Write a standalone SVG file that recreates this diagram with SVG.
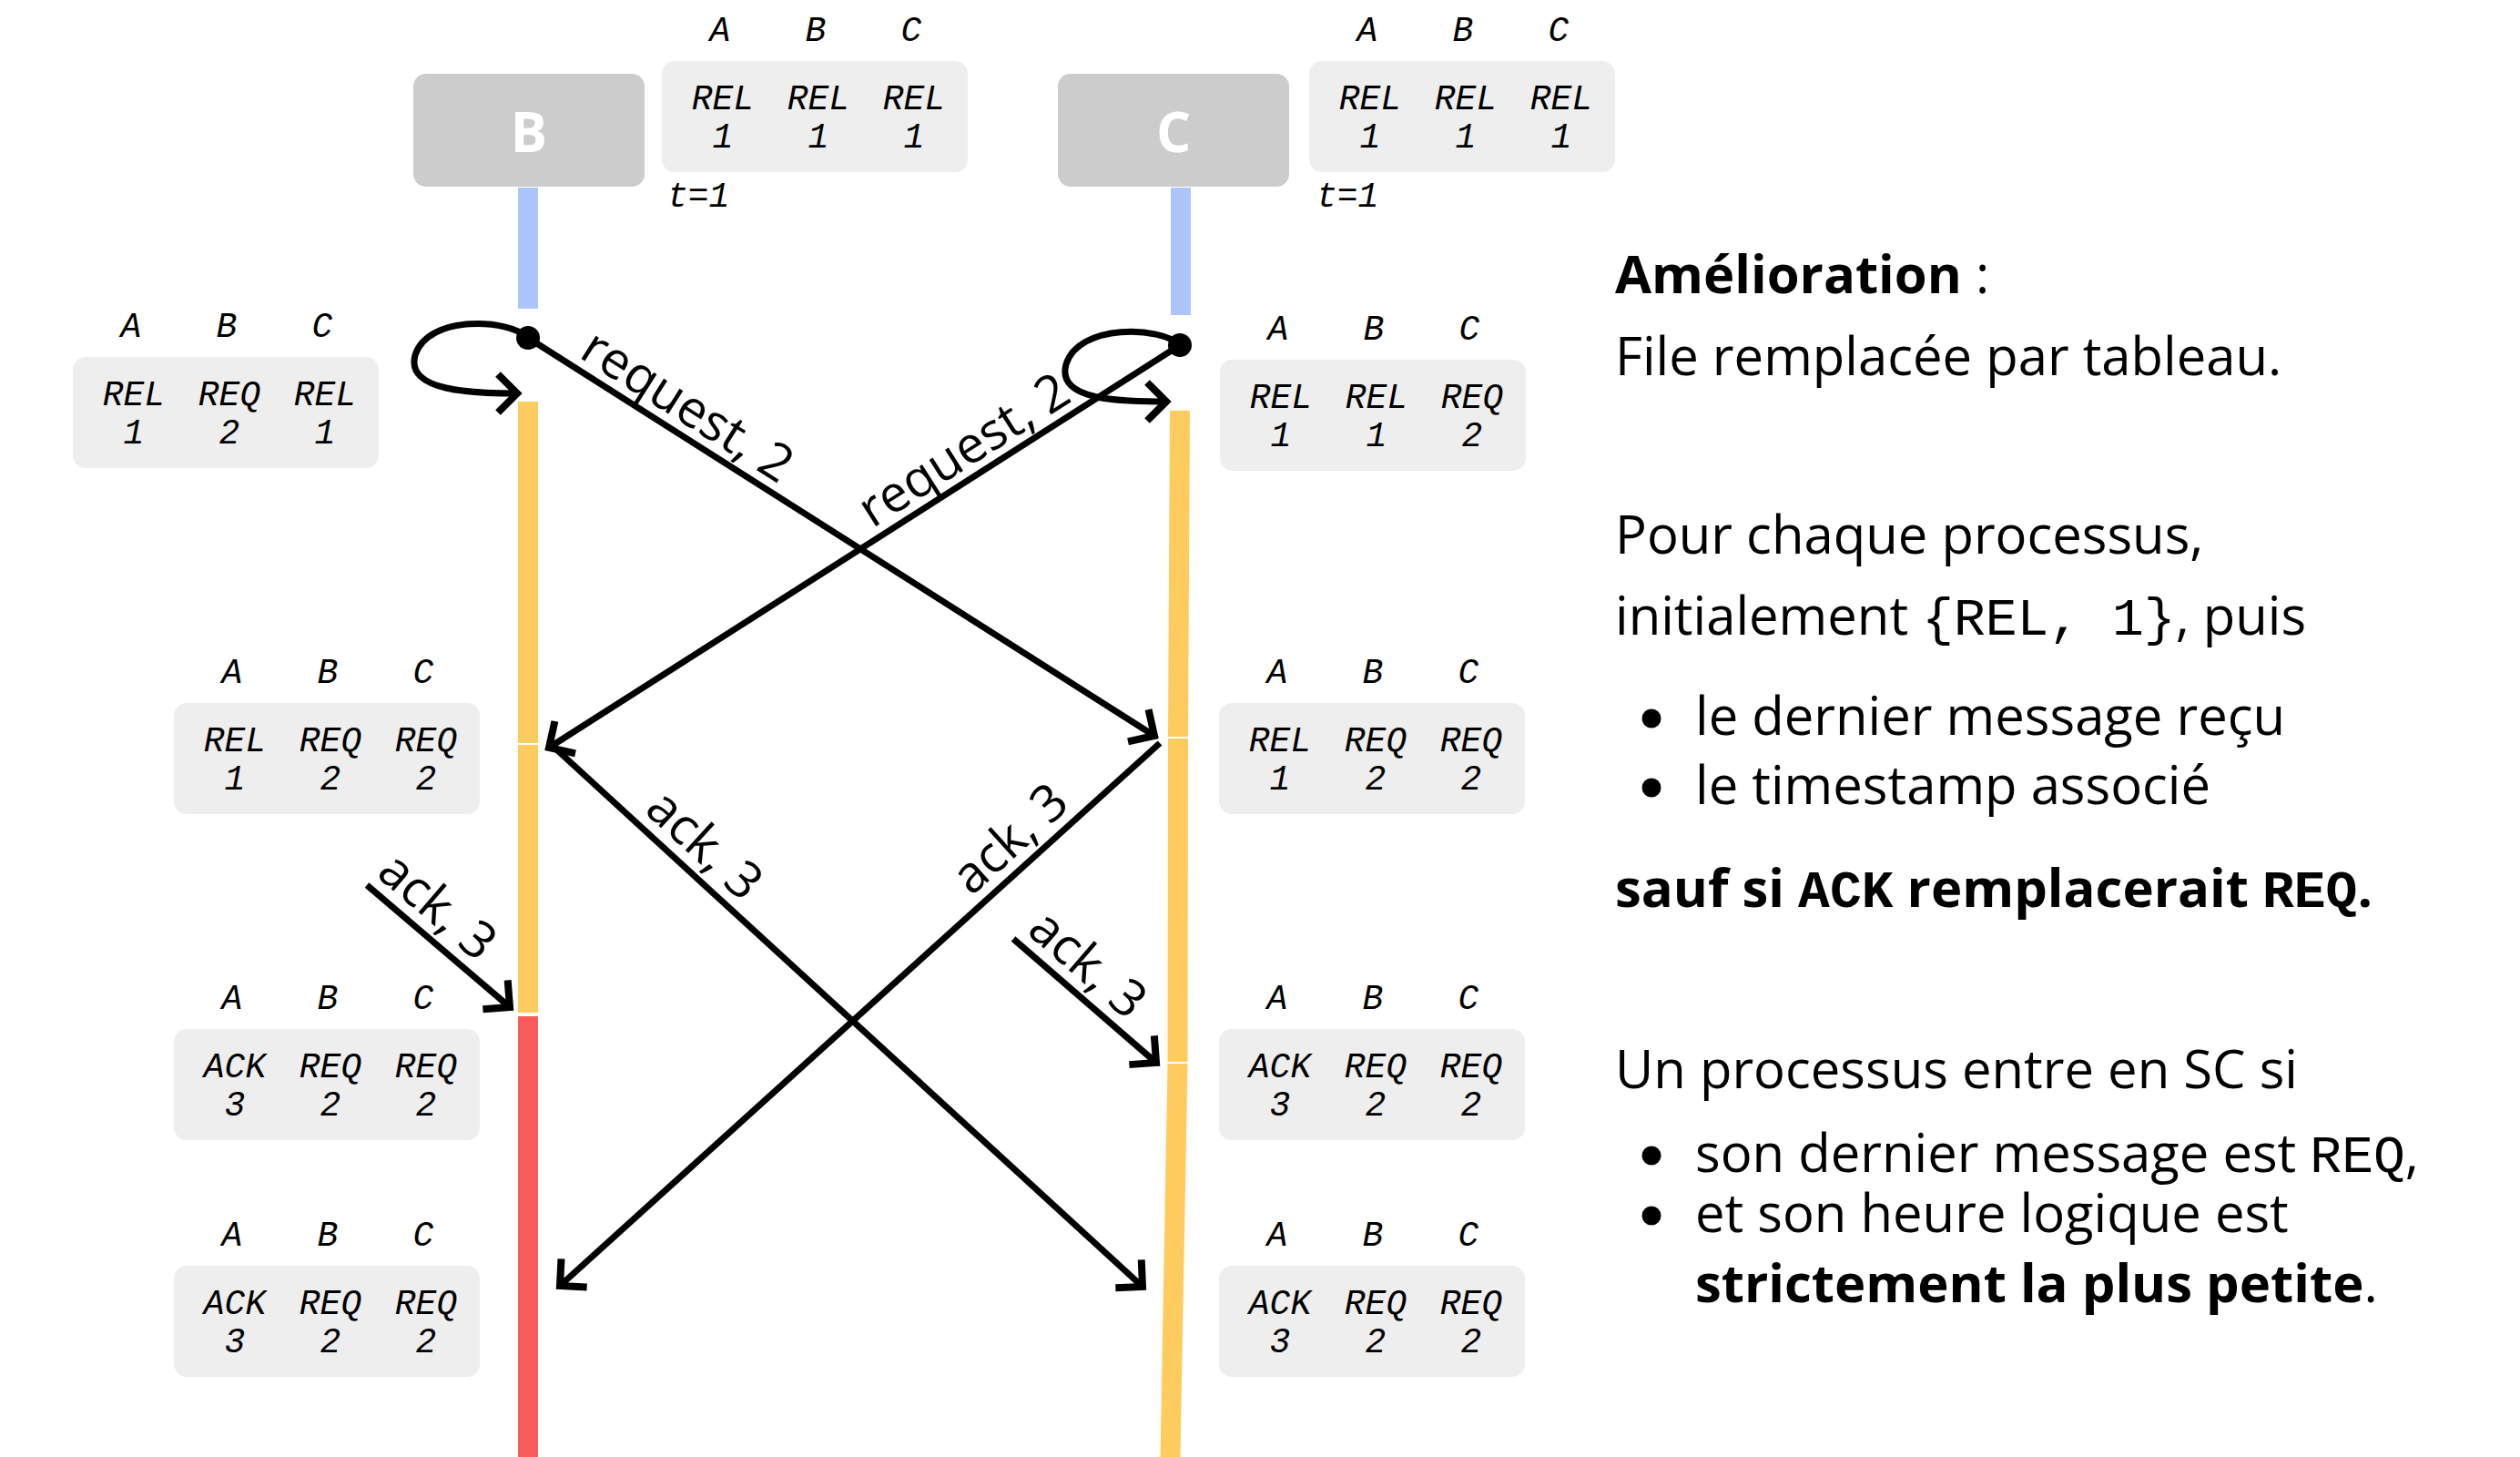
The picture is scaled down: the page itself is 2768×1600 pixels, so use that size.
<svg xmlns="http://www.w3.org/2000/svg" width="2768" height="1600" viewBox="0 0 2768 1600">
<style>
.proc{fill:#cccccc}
.proct{font-family:"Open Sans","Noto Sans",sans-serif;font-weight:bold;font-size:60px;fill:#fff;text-anchor:middle}
.tbl{fill:#eeeeee}
.m{font-family:"Liberation Mono","Courier New",monospace;font-style:italic;font-size:38px;fill:#000;text-anchor:middle}
.t1{font-family:"Liberation Mono","Courier New",monospace;font-style:italic;font-size:38px;fill:#000}
.lbl{font-family:"Open Sans","Noto Sans",sans-serif;font-size:56px;fill:#000;text-anchor:middle}
.body{font-family:"Open Sans","Noto Sans",sans-serif;font-size:58px;fill:#000}
.code{font-family:"Liberation Mono","Courier New",monospace}
.b{font-weight:bold}
.bullet{fill:#000}
.ln{stroke:#000;stroke-width:7;fill:none}
.blue{fill:#aec5fc}
.yel{fill:#fecc5e}
.red{fill:#f95c5c}
</style>
<defs>
<marker id="ah" viewBox="-30 -30 40 60" markerWidth="40" markerHeight="60" refX="0" refY="0" orient="auto" markerUnits="userSpaceOnUse">
<path d="M-21,-21 L0,0 L-21,21" fill="none" stroke="#000" stroke-width="8"/>
</marker>
</defs>

<g id="lifeline-B">
<rect class="blue" x="569" y="206" width="22" height="133"/>
<rect class="yel" x="569" y="441" width="22" height="375"/>
<rect class="yel" x="569" y="818" width="22" height="294"/>
<rect class="red" x="569" y="1116" width="22" height="484"/>
<circle cx="580" cy="371" r="13" fill="#000"/>
</g>
<g id="lifeline-C">
<rect class="blue" x="1286" y="206" width="22" height="140"/>
<polygon class="yel" points="1285,451 1307,451 1305,809 1283,809"/>
<polygon class="yel" points="1283,811 1305,811 1304.5,1166 1282.5,1166"/>
<polygon class="yel" points="1282.5,1168 1304.5,1168 1296.5,1600 1274.5,1600"/>
<circle cx="1296" cy="379" r="13" fill="#000"/>
</g>

<g id="node-B">
<rect class="proc" x="454" y="81" width="254" height="124" rx="14"/>
<text class="proct" x="581" y="167">B</text>
</g>
<g id="node-C">
<rect class="proc" x="1162" y="81" width="254" height="124" rx="14"/>
<text class="proct" x="1289" y="167">C</text>
</g>

<g id="table-B0">
<rect class="tbl" x="727" y="67" width="336" height="122" rx="14"/>
<text class="m" x="791" y="45">A</text><text class="m" x="896" y="45">B</text><text class="m" x="1001" y="45">C</text>
<text class="m" x="794" y="120">REL</text><text class="m" x="899" y="120">REL</text><text class="m" x="1004" y="120">REL</text>
<text class="m" x="794" y="162">1</text><text class="m" x="899" y="162">1</text><text class="m" x="1004" y="162">1</text>
<text class="t1" x="733" y="227">t=1</text>
</g>
<g id="table-C0">
<rect class="tbl" x="1438" y="67" width="336" height="122" rx="14"/>
<text class="m" x="1502" y="45">A</text><text class="m" x="1607" y="45">B</text><text class="m" x="1712" y="45">C</text>
<text class="m" x="1505" y="120">REL</text><text class="m" x="1610" y="120">REL</text><text class="m" x="1715" y="120">REL</text>
<text class="m" x="1505" y="162">1</text><text class="m" x="1610" y="162">1</text><text class="m" x="1715" y="162">1</text>
<text class="t1" x="1446" y="227">t=1</text>
</g>
<g id="table-B1">
<rect class="tbl" x="80" y="392" width="336" height="122" rx="14"/>
<text class="m" x="144" y="370">A</text><text class="m" x="249" y="370">B</text><text class="m" x="354" y="370">C</text>
<text class="m" x="147" y="445">REL</text><text class="m" x="252" y="445">REQ</text><text class="m" x="357" y="445">REL</text>
<text class="m" x="147" y="487">1</text><text class="m" x="252" y="487">2</text><text class="m" x="357" y="487">1</text>
</g>
<g id="table-C1">
<rect class="tbl" x="1340" y="395" width="336" height="122" rx="14"/>
<text class="m" x="1404" y="373">A</text><text class="m" x="1509" y="373">B</text><text class="m" x="1614" y="373">C</text>
<text class="m" x="1407" y="448">REL</text><text class="m" x="1512" y="448">REL</text><text class="m" x="1617" y="448">REQ</text>
<text class="m" x="1407" y="490">1</text><text class="m" x="1512" y="490">1</text><text class="m" x="1617" y="490">2</text>
</g>
<g id="table-B2">
<rect class="tbl" x="191" y="772" width="336" height="122" rx="14"/>
<text class="m" x="255" y="750">A</text><text class="m" x="360" y="750">B</text><text class="m" x="465" y="750">C</text>
<text class="m" x="258" y="825">REL</text><text class="m" x="363" y="825">REQ</text><text class="m" x="468" y="825">REQ</text>
<text class="m" x="258" y="867">1</text><text class="m" x="363" y="867">2</text><text class="m" x="468" y="867">2</text>
</g>
<g id="table-C2">
<rect class="tbl" x="1339" y="772" width="336" height="122" rx="14"/>
<text class="m" x="1403" y="750">A</text><text class="m" x="1508" y="750">B</text><text class="m" x="1613" y="750">C</text>
<text class="m" x="1406" y="825">REL</text><text class="m" x="1511" y="825">REQ</text><text class="m" x="1616" y="825">REQ</text>
<text class="m" x="1406" y="867">1</text><text class="m" x="1511" y="867">2</text><text class="m" x="1616" y="867">2</text>
</g>
<g id="table-B3">
<rect class="tbl" x="191" y="1130" width="336" height="122" rx="14"/>
<text class="m" x="255" y="1108">A</text><text class="m" x="360" y="1108">B</text><text class="m" x="465" y="1108">C</text>
<text class="m" x="258" y="1183">ACK</text><text class="m" x="363" y="1183">REQ</text><text class="m" x="468" y="1183">REQ</text>
<text class="m" x="258" y="1225">3</text><text class="m" x="363" y="1225">2</text><text class="m" x="468" y="1225">2</text>
</g>
<g id="table-C3">
<rect class="tbl" x="1339" y="1130" width="336" height="122" rx="14"/>
<text class="m" x="1403" y="1108">A</text><text class="m" x="1508" y="1108">B</text><text class="m" x="1613" y="1108">C</text>
<text class="m" x="1406" y="1183">ACK</text><text class="m" x="1511" y="1183">REQ</text><text class="m" x="1616" y="1183">REQ</text>
<text class="m" x="1406" y="1225">3</text><text class="m" x="1511" y="1225">2</text><text class="m" x="1616" y="1225">2</text>
</g>
<g id="table-B4">
<rect class="tbl" x="191" y="1390" width="336" height="122" rx="14"/>
<text class="m" x="255" y="1368">A</text><text class="m" x="360" y="1368">B</text><text class="m" x="465" y="1368">C</text>
<text class="m" x="258" y="1443">ACK</text><text class="m" x="363" y="1443">REQ</text><text class="m" x="468" y="1443">REQ</text>
<text class="m" x="258" y="1485">3</text><text class="m" x="363" y="1485">2</text><text class="m" x="468" y="1485">2</text>
</g>
<g id="table-C4">
<rect class="tbl" x="1339" y="1390" width="336" height="122" rx="14"/>
<text class="m" x="1403" y="1368">A</text><text class="m" x="1508" y="1368">B</text><text class="m" x="1613" y="1368">C</text>
<text class="m" x="1406" y="1443">ACK</text><text class="m" x="1511" y="1443">REQ</text><text class="m" x="1616" y="1443">REQ</text>
<text class="m" x="1406" y="1485">3</text><text class="m" x="1511" y="1485">2</text><text class="m" x="1616" y="1485">2</text>
</g>

<g id="connectors">
<path class="ln" d="M580,371 C560,350 470,345 456,390 C445,430 520,432 568,432" marker-end="url(#ah)"/>
<path class="ln" d="M1296,379 C1275,358 1185,355 1171,400 C1160,440 1230,441 1281,441" marker-end="url(#ah)"/>
<line class="ln" x1="580" y1="371" x2="1268" y2="808" marker-end="url(#ah)"/>
<line class="ln" x1="1296" y1="379" x2="603" y2="821" marker-end="url(#ah)"/>
<line class="ln" x1="608" y1="820" x2="1255" y2="1413" marker-end="url(#ah)"/>
<line class="ln" x1="1274" y1="816" x2="615" y2="1412" marker-end="url(#ah)"/>
<line class="ln" x1="403" y1="972" x2="560" y2="1106" marker-end="url(#ah)"/>
<line class="ln" x1="1113" y1="1031" x2="1270" y2="1167" marker-end="url(#ah)"/>
<text class="lbl" transform="translate(580,371) rotate(32.4)" x="188" y="-12">request, 2</text>
<text class="lbl" transform="translate(603,821) rotate(-32.5)" x="560" y="-12">request, 2</text>
<text class="lbl" transform="translate(608,820) rotate(42.5)" x="195" y="-14">ack, 3</text>
<text class="lbl" transform="translate(615,1412) rotate(-42.1)" x="696" y="-14">ack, 3</text>
<text class="lbl" transform="translate(403,972) rotate(40.5)" x="74" y="-14">ack, 3</text>
<text class="lbl" transform="translate(1113,1031) rotate(40.9)" x="80" y="-14">ack, 3</text>
</g>

<g id="notes">
<text class="body" x="1774" y="322"><tspan class="b">Amélioration</tspan> :</text>
<text class="body" x="1774" y="412">File remplacée par tableau.</text>
<text class="body" x="1774" y="608">Pour chaque processus,</text>
<text class="body" x="1774" y="697">initialement <tspan class="code">{REL, 1}</tspan>, puis</text>
<circle class="bullet" cx="1814" cy="789" r="10.5"/><text class="body" x="1862" y="807">le dernier message reçu</text>
<circle class="bullet" cx="1814" cy="865" r="10.5"/><text class="body" x="1862" y="883">le timestamp associé</text>
<text class="body b" x="1774" y="996">sauf si <tspan class="code">ACK</tspan> remplacerait <tspan class="code">REQ</tspan>.</text>
<text class="body" x="1774" y="1195">Un processus entre en SC si</text>
<circle class="bullet" cx="1814" cy="1269" r="10.5"/><text class="body" x="1862" y="1287">son dernier message est <tspan class="code">REQ</tspan>,</text>
<circle class="bullet" cx="1814" cy="1335" r="10.5"/><text class="body" x="1862" y="1353">et son heure logique est</text>
<text class="body" x="1862" y="1430"><tspan class="b">strictement la plus petite</tspan>.</text>
</g>
</svg>
